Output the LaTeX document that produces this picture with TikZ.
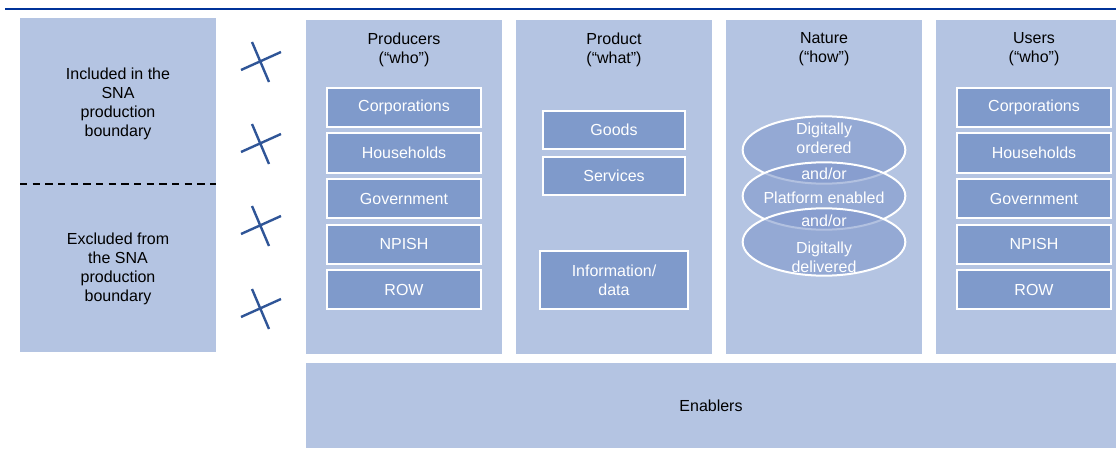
\documentclass[tikz,border=0pt]{standalone}
\usepackage{fontspec}
\setmainfont{Liberation Sans}
\usetikzlibrary{shapes.geometric,fit}
\definecolor{colbg}{RGB}{180,196,226}
\definecolor{subfill}{RGB}{127,154,203}
\definecolor{ellfill}{RGB}{128,152,204}
\definecolor{rulecol}{RGB}{0,51,153}
\definecolor{crosscol}{RGB}{47,85,151}
\begin{document}
\begin{tikzpicture}[x=0.75pt,y=-0.75pt,
  font=\fontsize{12}{14.3}\selectfont,
  panel/.style={fill=colbg, draw=none, inner sep=0pt},
  subbox/.style={rectangle, fill=subfill, draw=white, line width=1.5pt, inner sep=0pt, align=center, text=white,
                 minimum width=115.5pt, minimum height=29.25pt},
  ell/.style={ellipse, draw=white, line width=1.5pt, fill=ellfill, fill opacity=0.6, draw opacity=1,
              minimum width=122pt, minimum height=50.5pt, inner sep=0pt},
  elltext/.style={text=white, align=center, inner sep=0pt},
  ttl/.style={align=center, inner sep=0pt, text=black},
  crossline/.style={draw=crosscol, line width=1.8pt},
  sep/.style={draw=black, line width=1.5pt, dash pattern=on 5.5pt off 4pt}]
\useasboundingbox (0,0) rectangle (1116,449);
% top rule
\coordinate (r1) at (5,9);
\coordinate (r2) at (1116,9);
\draw[draw=rulecol, line width=2pt] (r1) -- (r2);
% left panel
\node[panel, fit={(20,18) (216,352)}] (left) {};
\coordinate (d1) at (20,184);
\coordinate (d2) at (216,184);
\draw[sep] (d1) -- (d2);
\node[ttl] (inc) at (118,103.5) {Included in the\\SNA\\production\\boundary};
\node[ttl] (exc) at (118,269) {Excluded from\\the SNA\\production\\boundary};
% crosses
\foreach \cy [count=\i] in {62,144,226,309}{
  \coordinate (c\i) at (262,\cy);
  \draw[crossline, shift={(c\i)}] (-21,8) -- (19,-10) (-10,-20) -- (7,20);
}
% columns
\node[panel, fit={(306,20) (502,354)}] (prod) {};
\node[panel, fit={(516,20) (712,354)}] (what) {};
\node[panel, fit={(726,20) (922,354)}] (how) {};
\node[panel, fit={(936,20) (1116,354)}] (users) {};
\node[ttl] (prodT) at (404,49.5) {Producers\\(“who”)};
\node[ttl] (whatT) at (614,49.5) {Product\\(“what”)};
\node[ttl] (howT) at (824,49.5) {Nature\\(“how”)};
\node[ttl] (usersT) at (1034,49.5) {Users\\(“who”)};
% producers boxes
\node[subbox] (p1) at (404,107.5) {Corporations};
\node[subbox] (p2) at (404,153) {Households};
\node[subbox] (p3) at (404,198.5) {Government};
\node[subbox] (p4) at (404,244) {NPISH};
\node[subbox] (p5) at (404,289.5) {ROW};
% users boxes
\node[subbox] (u1) at (1034,107.5) {Corporations};
\node[subbox] (u2) at (1034,153) {Households};
\node[subbox] (u3) at (1034,198.5) {Government};
\node[subbox] (u4) at (1034,244) {NPISH};
\node[subbox] (u5) at (1034,289.5) {ROW};
% product boxes
\node[subbox, minimum width=106.5pt, minimum height=28.5pt] (g) at (614,130) {Goods};
\node[subbox, minimum width=106.5pt, minimum height=28.5pt] (s) at (614,176) {Services};
\node[subbox, minimum width=111pt, minimum height=43.5pt] (info) at (614,280) {Information/\\data};
% nature ellipses
\node[ell] (e1) at (824,150) {};
\node[ell] (e2) at (824,196) {};
\node[ell] (e3) at (824,242) {};
\node[elltext] (t1) at (824,138) {Digitally\\ordered};
\node[elltext] (t2) at (824,174) {and/or};
\node[elltext] (t3) at (824,198) {Platform enabled};
\node[elltext] (t4) at (824,221) {and/or};
\node[elltext] (t5) at (824,257.5) {Digitally\\delivered};
% enablers
\node[panel, minimum width=607.5pt, minimum height=63.75pt] (enab) at (711,405.5) {Enablers};
\end{tikzpicture}
\end{document}
